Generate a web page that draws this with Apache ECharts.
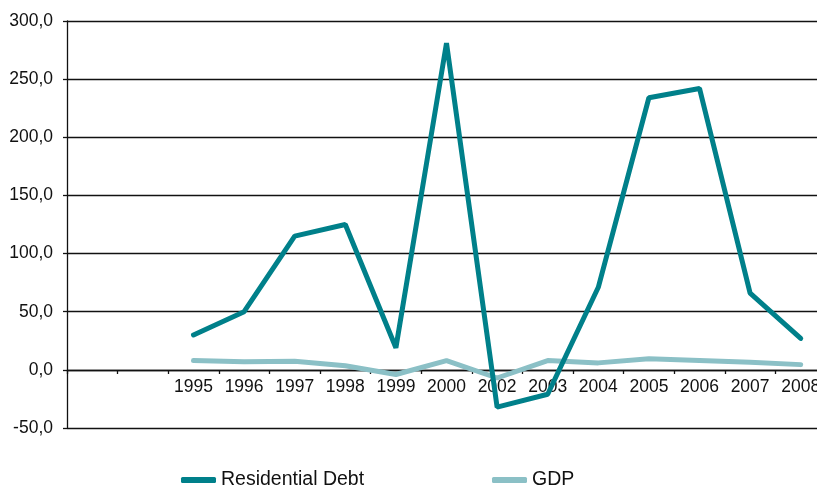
<!DOCTYPE html>
<html><head><meta charset="utf-8">
<script src="https://cdn.jsdelivr.net/npm/echarts@6/dist/echarts.min.js"></script>
<style>html,body{margin:0;padding:0;background:#fff}#c{width:817px;height:488px}</style>
</head><body><div id="c"></div>
<script>
const categories = ['', '', '1995', '1996', '1997', '1998', '1999', '2000', '2002', '2003', '2004', '2005', '2006', '2007', '2008'];
const residentialDebt = [null, null, 30, 50, 115, 125, 19, 281, -32, -21, 71, 234, 242, 66, 27];
const gdp = [null, null, 8, 7, 7.5, 3.5, -4, 8, -7, 8, 6, 9.5, 8, 6.5, 4.5];
const yTicks = { min: -50, max: 300, interval: 50 };

const font = "'Liberation Sans', Arial, sans-serif";
const chart = echarts.init(document.getElementById('c'), null, { renderer: 'canvas' });
chart.setOption({
  animation: false,
  backgroundColor: '#ffffff',
  grid: { left: 67, top: 21, bottom: 60, right: -9, containLabel: false, outerBoundsMode: 'none' },
  xAxis: {
    type: 'category', data: categories, boundaryGap: true, position: 'bottom', offset: -58,
    axisLine: { onZero: false, lineStyle: { color: '#111', width: 1.3 } },
    axisTick: { show: true, length: 4, inside: false, lineStyle: { color: '#111', width: 1.3 } },
    axisLabel: { interval: 0, margin: 8, color: '#111', fontFamily: font, fontSize: 17.5 },
    splitLine: { show: false }
  },
  yAxis: {
    type: 'value', min: yTicks.min, max: yTicks.max, interval: yTicks.interval,
    axisLine: { show: true, lineStyle: { color: '#111', width: 1.3 } },
    axisTick: { show: true, length: 4, lineStyle: { color: '#111', width: 1.3 } },
    axisLabel: { margin: 14, color: '#111', fontFamily: font, fontSize: 17.5,
      formatter: v => v.toFixed(1).replace('.', ',') },
    splitLine: { show: true, lineStyle: { color: '#111', width: 1.3 } }
  },
  legend: [
    { data: ['Residential Debt'], left: 176, top: 465, icon: 'roundRect', itemWidth: 35, itemHeight: 6, itemGap: 13,
      textStyle: { fontFamily: font, fontSize: 19.5, color: '#111' } },
    { data: ['GDP'], left: 487, top: 465, icon: 'roundRect', itemWidth: 35, itemHeight: 6, itemGap: 13,
      textStyle: { fontFamily: font, fontSize: 19.5, color: '#111' } }
  ],
  series: [
    { name: 'Residential Debt', type: 'line', data: residentialDebt, symbol: 'none', z: 3,
      color: '#00808a', lineStyle: { width: 5, color: '#00808a', cap: 'round' } },
    { name: 'GDP', type: 'line', data: gdp, symbol: 'none', z: 2,
      color: '#8bc0c6', lineStyle: { width: 5, color: '#8bc0c6', cap: 'round' } }
  ]
});
</script></body></html>
